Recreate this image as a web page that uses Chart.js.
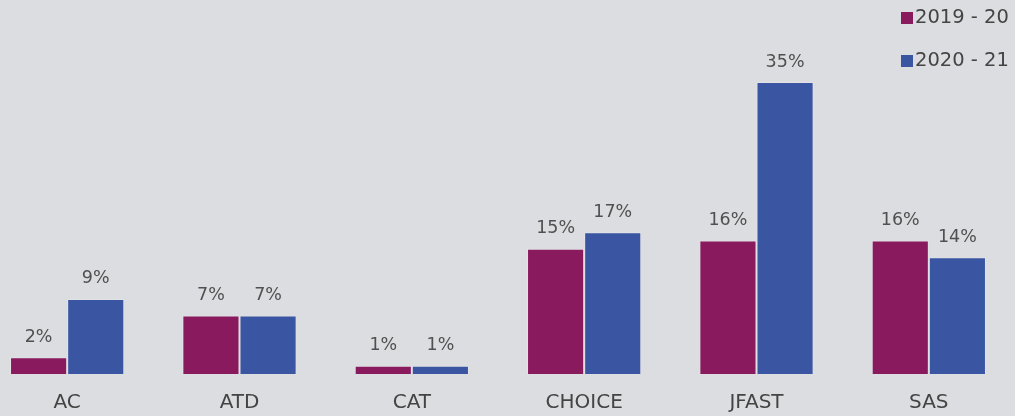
<!DOCTYPE html>
<html>
<head>
<meta charset="utf-8">
<script src="https://cdn.jsdelivr.net/npm/chart.js@4"></script>
<style>
  html, body { margin: 0; padding: 0; background: #dcdde0; overflow: hidden; }
  #wrap { position: absolute; left: -19px; top: 0; width: 1034px; height: 432px; }
</style>
</head>
<body>
<div id="wrap"><canvas id="c"></canvas></div>
<script>
const categories = ['AC', 'ATD', 'CAT', 'CHOICE', 'JFAST', 'SAS'];
const series2019 = [2, 7, 1, 15, 16, 16];
const series2020 = [9, 7, 1, 17, 35, 14];
const seriesNames = ['2019 - 20', '2020 - 21'];
const colors = ['#8a1a5e', '#3a56a3'];

const FONT = "'DejaVu Sans', sans-serif";

const labelPlugin = {
  id: 'barLabels',
  afterDatasetsDraw(chart) {
    const ctx = chart.ctx;
    ctx.save();
    ctx.font = '17.5px ' + FONT;
    ctx.fillStyle = '#505050';
    ctx.textAlign = 'center';
    ctx.textBaseline = 'middle';
    chart.data.datasets.forEach((ds, i) => {
      const meta = chart.getDatasetMeta(i);
      meta.data.forEach((bar, j) => {
        ctx.fillText(ds.data[j] + '%', bar.x, bar.y - 20);
      });
    });
    ctx.restore();
  }
};

const legendPlugin = {
  id: 'customLegend',
  afterDraw(chart) {
    const ctx = chart.ctx;
    ctx.save();
    ctx.font = '19.5px ' + FONT;
    ctx.textBaseline = 'middle';
    ctx.textAlign = 'left';
    chart.data.datasets.forEach((ds, i) => {
      const y = 18 + i * 43;
      const x = 920;
      ctx.fillStyle = ds.backgroundColor;
      ctx.fillRect(x, y - 6, 12, 12);
      ctx.fillStyle = '#444444';
      ctx.fillText(ds.label, x + 14, y);
    });
    ctx.restore();
  }
};

new Chart(document.getElementById('c'), {
  type: 'bar',
  data: {
    labels: categories,
    datasets: [
      { label: seriesNames[0], data: series2019, backgroundColor: colors[0], borderColor: 'rgba(255,255,255,0.2)', borderWidth: 1 },
      { label: seriesNames[1], data: series2020, backgroundColor: colors[1], borderColor: 'rgba(255,255,255,0.2)', borderWidth: 1 }
    ]
  },
  options: {
    responsive: true,
    maintainAspectRatio: false,
    animation: false,
    layout: { padding: { top: 0, bottom: 0, left: 0, right: 0 } },
    plugins: { legend: { display: false }, tooltip: { enabled: false } },
    datasets: { bar: { barPercentage: 1.0, categoryPercentage: 0.663 } },
    scales: {
      x: {
        grid: { display: false, drawTicks: false },
        border: { display: false },
        ticks: { color: '#444444', font: { family: FONT, size: 20 }, padding: 17 }
      },
      y: {
        display: false,
        min: 0,
        max: 35 * 374 / 292
      }
    }
  },
  plugins: [labelPlugin, legendPlugin]
});
</script>
</body>
</html>
